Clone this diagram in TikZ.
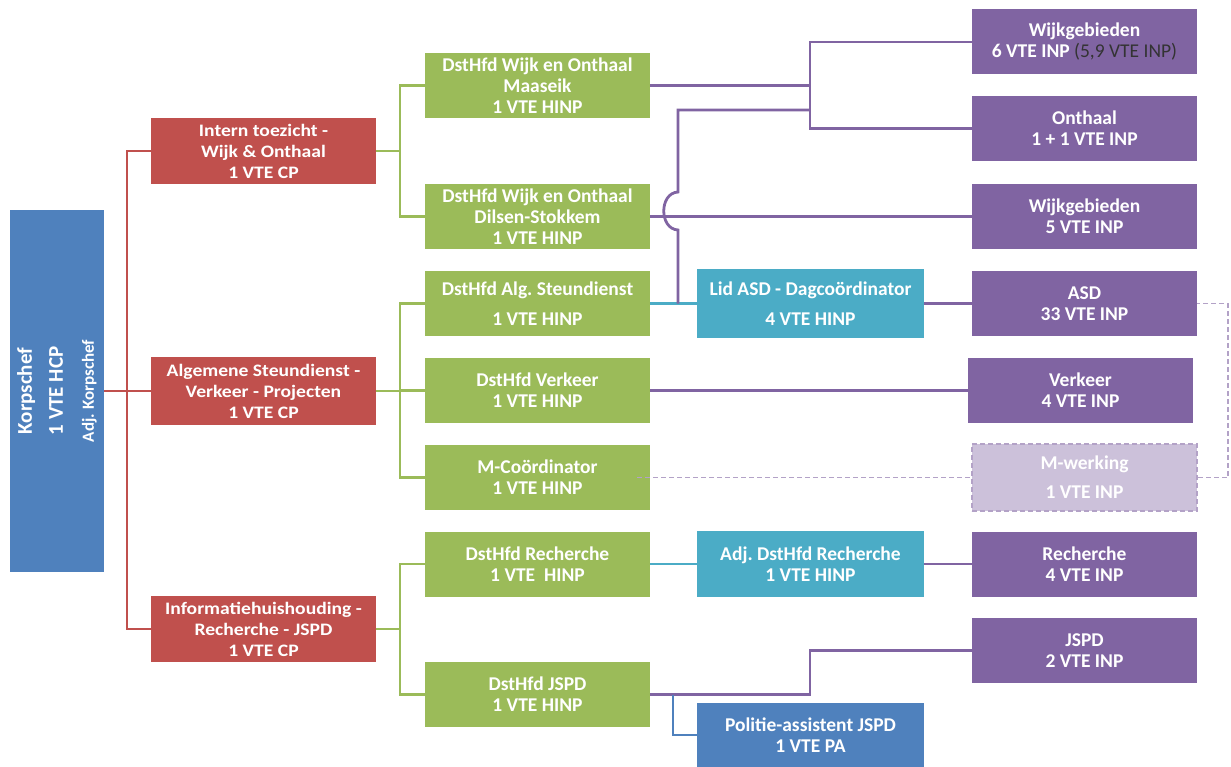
\documentclass[tikz,border=0pt]{standalone}
\usepackage{fontspec}
\setmainfont{Carlito}
\newfontfamily\redfont[FakeStretch=1.12]{Carlito}
\definecolor{cblue}{HTML}{4F81BD}
\definecolor{cred}{HTML}{C0504D}
\definecolor{cgreen}{HTML}{9BBB59}
\definecolor{cpurple}{HTML}{8064A2}
\definecolor{cteal}{HTML}{4BACC6}
\definecolor{clight}{HTML}{CCC1DA}
\definecolor{cldash}{HTML}{B3A2C7}
\frenchspacing
\tikzset{
  box/.style={rectangle, minimum width=225, minimum height=65, inner sep=0pt, text=white, align=center, font=\fontsize{19.5}{21}\selectfont\bfseries},
  redbox/.style={box, fill=cred, minimum height=66, font=\redfont\fontsize{17.5}{21}\selectfont\bfseries},
  greenbox/.style={box, fill=cgreen},
  purplebox/.style={box, fill=cpurple},
  tealbox/.style={box, fill=cteal, minimum width=227},
  bluebox/.style={box, fill=cblue, minimum width=227},
  lightbox/.style={box, fill=clight, draw=cldash, line width=2pt, dash pattern=on 5pt off 3pt, minimum height=67},
  rl/.style={draw=cred, line width=2.8pt},
  gl/.style={draw=cgreen, line width=2.8pt},
  pl/.style={draw=cpurple, line width=2.8pt},
  tl/.style={draw=cteal, line width=2.8pt},
  bl/.style={draw=cblue, line width=2.8pt},
  dl/.style={draw=cldash, line width=1.5pt, dash pattern=on 5pt off 3pt},
}
\begin{document}
\frenchspacing
\begin{tikzpicture}[x=1pt,y=-1pt]
\useasboundingbox (0,0) rectangle (1231,767);
% Korpschef
\node[rectangle, fill=cblue, rotate=90, minimum width=362, minimum height=94, inner sep=0pt, text=white, align=center, font=\fontsize{21}{28}\selectfont\bfseries] (korps) at (57,391)
  {Korpschef\\[3pt]1 VTE HCP\\[3pt]{\fontsize{17}{20}\selectfont Adj. Korpschef}};
% red
\node[redbox] (int) at (263.5,151) {Intern toezicht -\\Wijk \& Onthaal\\1 VTE CP};
\node[redbox, minimum height=68] (alg) at (263.5,391) {Algemene Steundienst -\\Verkeer - Projecten\\1 VTE CP};
\node[redbox] (info) at (263.5,629) {Informatiehuishouding -\\Recherche - JSPD\\1 VTE CP};
% green
\node[greenbox] (g1) at (537.5,85.5) {DstHfd Wijk en Onthaal\\Maaseik\\1 VTE HINP};
\node[greenbox] (g2) at (537.5,216.5) {DstHfd Wijk en Onthaal\\Dilsen-Stokkem\\1 VTE HINP};
\node[greenbox] (g3) at (537.5,303.5) {DstHfd Alg. Steundienst\\[9pt]1 VTE HINP};
\node[greenbox] (g4) at (537.5,390.5) {DstHfd Verkeer\\1 VTE HINP};
\node[greenbox] (g5) at (537.5,477.5) {M-Coördinator\\1 VTE HINP};
\node[greenbox] (g6) at (537.5,564) {DstHfd Recherche\\1 VTE\ \ HINP};
\node[greenbox] (g7) at (537.5,694.5) {DstHfd JSPD\\1 VTE HINP};
% teal / blue
\node[tealbox, minimum height=69] (t1) at (810.5,303.5) {Lid ASD - Dagcoördinator\\[9pt]4 VTE HINP};
\node[tealbox, minimum height=66] (t2) at (810.5,564) {Adj. DstHfd Recherche\\1 VTE HINP};
\node[bluebox, minimum height=64] (b1) at (810.5,735) {Politie-assistent JSPD\\1 VTE PA};
% purple
\node[purplebox] (p1) at (1084.5,42) {Wijkgebieden\\6 VTE INP {\mdseries\color{black!80}(5,9 VTE INP)}};
\node[purplebox] (p2) at (1084.5,128.5) {Onthaal\\1 + 1 VTE INP};
\node[purplebox] (p3) at (1084.5,216.5) {Wijkgebieden\\5 VTE INP};
\node[purplebox] (p4) at (1084.5,303.5) {ASD\\33 VTE INP};
\node[purplebox] (p5) at (1080.5,390.5) {Verkeer\\4 VTE INP};
\node[lightbox] (p6) at (1084.5,477.5) {M-werking\\[8pt]1 VTE INP};
\node[purplebox] (p7) at (1084.5,564) {Recherche\\4 VTE INP};
\node[purplebox] (p8) at (1084.5,650.5) {JSPD\\2 VTE INP};
% junction columns
\coordinate (rj) at (127,0);
\coordinate (gj) at (400,0);
\coordinate (pj) at (810,0);
\coordinate (hj) at (678,0);
\coordinate (bj) at (673,0);
\coordinate (dj) at (1228,0);
% red connectors
\draw[rl] (korps.south) -- (korps.south -| rj);
\draw[rl] (int.west) -| (info.west -| rj) -- (info.west);
\draw[rl] (alg.west) -- (alg.west -| rj);
% green connectors
\draw[gl] (int.east) -- (int.east -| gj);
\draw[gl] (g1.west) -| (g2.west -| gj) -- (g2.west);
\draw[gl] (alg.east) -- (alg.east -| gj);
\draw[gl] (g3.west) -| (g5.west -| gj) -- (g5.west);
\draw[gl] (g4.west) -- (g4.west -| gj);
\draw[gl] (info.east) -- (info.east -| gj);
\draw[gl] (g6.west) -| (g7.west -| gj) -- (g7.west);
% purple connectors
\draw[pl] (g1.east) -- (g1.east -| pj);
\draw[pl] (p1.west) -| (p2.west -| pj) -- (p2.west);
\draw[pl] (g2.east) -- (p3.west);
\draw[tl] (g3.east) -- (t1.west);
\draw[pl] (t1.west -| hj) -- ([yshift=-230]hj) .. controls ([xshift=-19,yshift=-229]hj) and ([xshift=-19,yshift=-193]hj) .. ([yshift=-192]hj) -- ([yshift=-110]hj) -- ([yshift=-110]pj);
\draw[pl] (t1.east) -- (p4.west);
\draw[pl] (g4.east) -- (p5.west);
\draw[tl] (g6.east) -- (t2.west);
\draw[pl] (t2.east) -- (p7.west);
\draw[pl] (g7.east) -- (g7.east -| pj) |- (p8.west);
\draw[bl] (g7.east -| bj) |- (b1.west);
% dashed
\draw[dl] ([xshift=-13]g5.east) -- (p6.west);
\draw[dl] (p6.east) -- (p6.east -| dj) |- (p4.east);
\end{tikzpicture}
\end{document}
